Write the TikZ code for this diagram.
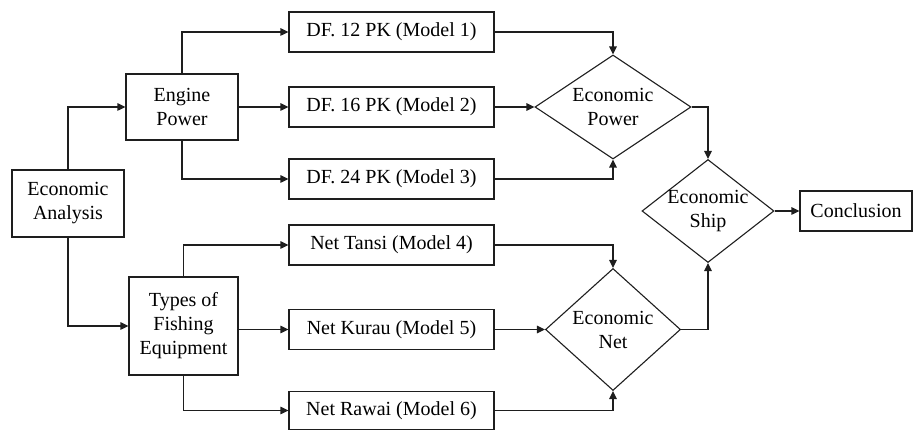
\documentclass[tikz,border=0pt]{standalone}
\usepackage{fontspec}
\setmainfont{Liberation Serif}
\usetikzlibrary{shapes.geometric,arrows.meta}
\definecolor{ln}{RGB}{30,30,30}
\tikzset{
  box/.style={draw=ln, line width=1.2pt, rectangle, inner sep=0pt, align=center,
    font=\fontsize{20}{24}\selectfont},
  dia/.style={draw=ln, line width=1.1pt, shape=diamond, inner sep=0pt, aspect=1.4},
  lbl/.style={align=center, inner sep=0pt, font=\fontsize{20}{24}\selectfont},
  arr/.style={draw=ln, line width=1.2pt, -{Triangle[length=8pt,width=7.5pt]}},
}
\begin{document}
\begin{tikzpicture}[x=1pt,y=-1pt]
\useasboundingbox (0,0) rectangle (914,430);
% left column
\node[box, minimum width=112pt, minimum height=67pt] (ea) at (68,203.5) {Economic\\Analysis};
\node[box, minimum width=112pt, minimum height=66pt] (ep) at (182,107) {Engine\\Power};
\node[box, minimum width=109pt, minimum height=98pt] (tf) at (183.5,326) {Types of\\Fishing\\Equipment};
% models
\node[box, minimum width=205pt, minimum height=40pt] (m1) at (391.5,32) {DF. 12 PK (Model 1)};
\node[box, minimum width=205pt, minimum height=40pt] (m2) at (391.5,107) {DF. 16 PK (Model 2)};
\node[box, minimum width=205pt, minimum height=40pt] (m3) at (391.5,179) {DF. 24 PK (Model 3)};
\node[box, minimum width=205pt, minimum height=40pt] (m4) at (391.5,245) {Net Tansi (Model 4)};
\node[box, minimum width=205pt, minimum height=40pt] (m5) at (391.5,329.5) {Net Kurau (Model 5)};
\node[box, minimum width=205pt, minimum height=38pt] (m6) at (391.5,410.5) {Net Rawai (Model 6)};
% diamonds
\node[dia, minimum width=156pt, minimum height=104pt, label={[lbl]center:Economic\\Power}] (pow) at (613,107) {};
\node[dia, minimum width=135pt, minimum height=122pt, label={[lbl]center:Economic\\Net}] (net) at (613,329.5) {};
\node[dia, minimum width=132pt, minimum height=103pt, label={[lbl]center:Economic\\Ship}] (ship) at (708,211) {};
\node[box, minimum width=112pt, minimum height=40pt] (con) at (856,211) {Conclusion};
% connectors
\draw[arr] (ea.north) |- (ep.west);
\draw[arr] (ea.south) |- (tf.west);
\draw[arr] (ep.north) |- (m1.west);
\draw[arr] (ep.east) -- (m2.west);
\draw[arr] (ep.south) |- (m3.west);
\draw[arr] (tf.north) |- (m4.west);
\draw[arr] (tf.east |- m5.west) -- (m5.west);
\draw[arr] (tf.south) |- (m6.west);
\draw[arr] (m1.east) -| (pow.north);
\draw[arr] (m2.east) -- (pow.west);
\draw[arr] (m3.east) -| (pow.south);
\draw[arr] (m4.east) -| (net.north);
\draw[arr] (m5.east) -- (net.west);
\draw[arr] (m6.east) -| (net.south);
\draw[arr] (pow.east) -| (ship.north);
\draw[arr] (net.east) -| (ship.south);
\draw[arr] (ship.east) -- (con.west);
\end{tikzpicture}
\end{document}
